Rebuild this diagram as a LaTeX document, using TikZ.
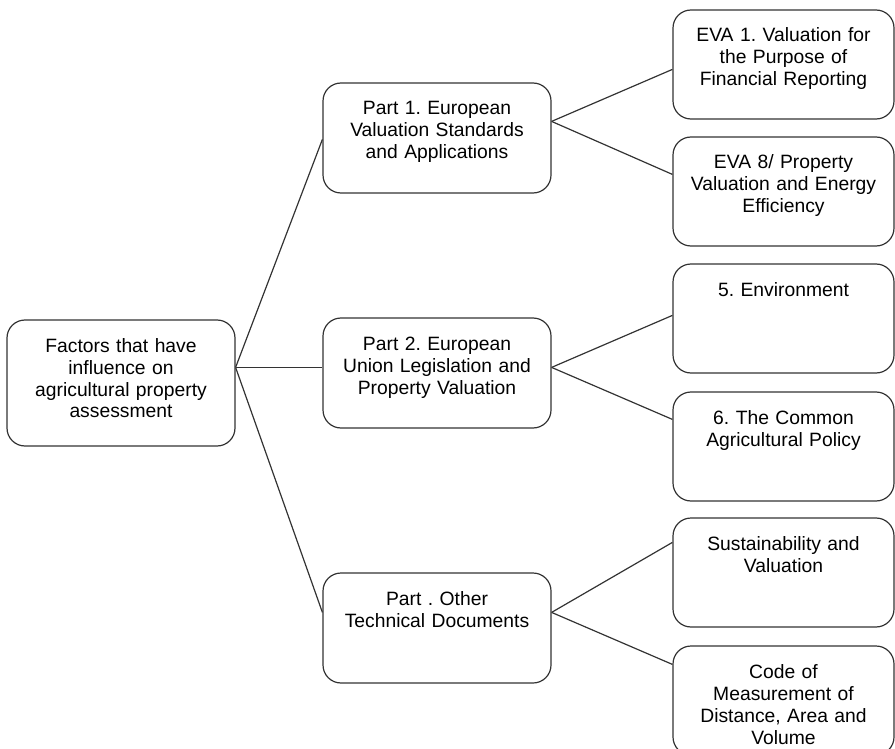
\documentclass[tikz,border=0pt]{standalone}
\usepackage{fontspec}
\setmainfont{Liberation Sans}
\frenchspacing
\begin{document}
\begin{tikzpicture}[x=1pt,y=-1pt,line width=1.2pt,
   box/.style={draw=black!80,rounded corners=18pt,align=center,inner xsep=4pt,inner ysep=0pt,
     text height=32pt,font=\fontsize{19.3}{22}\selectfont},
   rootbox/.style={box,text width=220pt,text depth=94pt},
   partbox/.style={box,text width=220pt,text depth=78pt},
   leafbox/.style={box,text width=213pt,text depth=77pt},
   link/.style={draw=black!80,line width=1.2pt}]
   \useasboundingbox (0,0) rectangle (895,749);
   % Root
   \node[rootbox] (root) at (121,383) {Factors that have\\influence on\\agricultural property\\assessment};
   % Parts
   \node[partbox] (p1) at (437,138) {Part 1. European\\Valuation Standards\\and Applications};
   \node[partbox] (p2) at (437,373) {Part 2. European\\Union Legislation and\\Property Valuation};
   \node[partbox] (p3) at (437,628) {Part . Other\\Technical Documents};
   % Leaves
   \node[leafbox] (l1) at (783.5,64.5) {EVA 1. Valuation for\\the Purpose of\\Financial Reporting};
   \node[leafbox] (l2) at (783.5,191.5) {EVA 8/ Property\\Valuation and Energy\\Efficiency};
   \node[leafbox] (l3) at (783.5,318.5) {5. Environment};
   \node[leafbox] (l4) at (783.5,446.5) {6. The Common\\Agricultural Policy};
   \node[leafbox] (l5) at (783.5,572.5) {Sustainability and\\Valuation};
   \node[leafbox] (l6) at (783.5,700.5) {Code of\\Measurement of\\Distance, Area and\\Volume};
   % Root to parts
   \draw[link] ([yshift=-48pt]root.north east) -- ([yshift=-57pt]p1.north west);
   \draw[link] ([yshift=-48pt]root.north east) -- ([yshift=-50pt]p2.north west);
   \draw[link] ([yshift=-48pt]root.north east) -- ([yshift=-40pt]p3.north west);
   % Parts to leaves
   \draw[link] ([yshift=-39pt]p1.north east) -- ([yshift=-60pt]l1.north west);
   \draw[link] ([yshift=-39pt]p1.north east) -- ([yshift=-38pt]l2.north west);
   \draw[link] ([yshift=-50pt]p2.north east) -- ([yshift=-52pt]l3.north west);
   \draw[link] ([yshift=-50pt]p2.north east) -- ([yshift=-28pt]l4.north west);
   \draw[link] ([yshift=-40pt]p3.north east) -- ([yshift=-25pt]l5.north west);
   \draw[link] ([yshift=-40pt]p3.north east) -- ([yshift=-19pt]l6.north west);
\end{tikzpicture}
\end{document}
